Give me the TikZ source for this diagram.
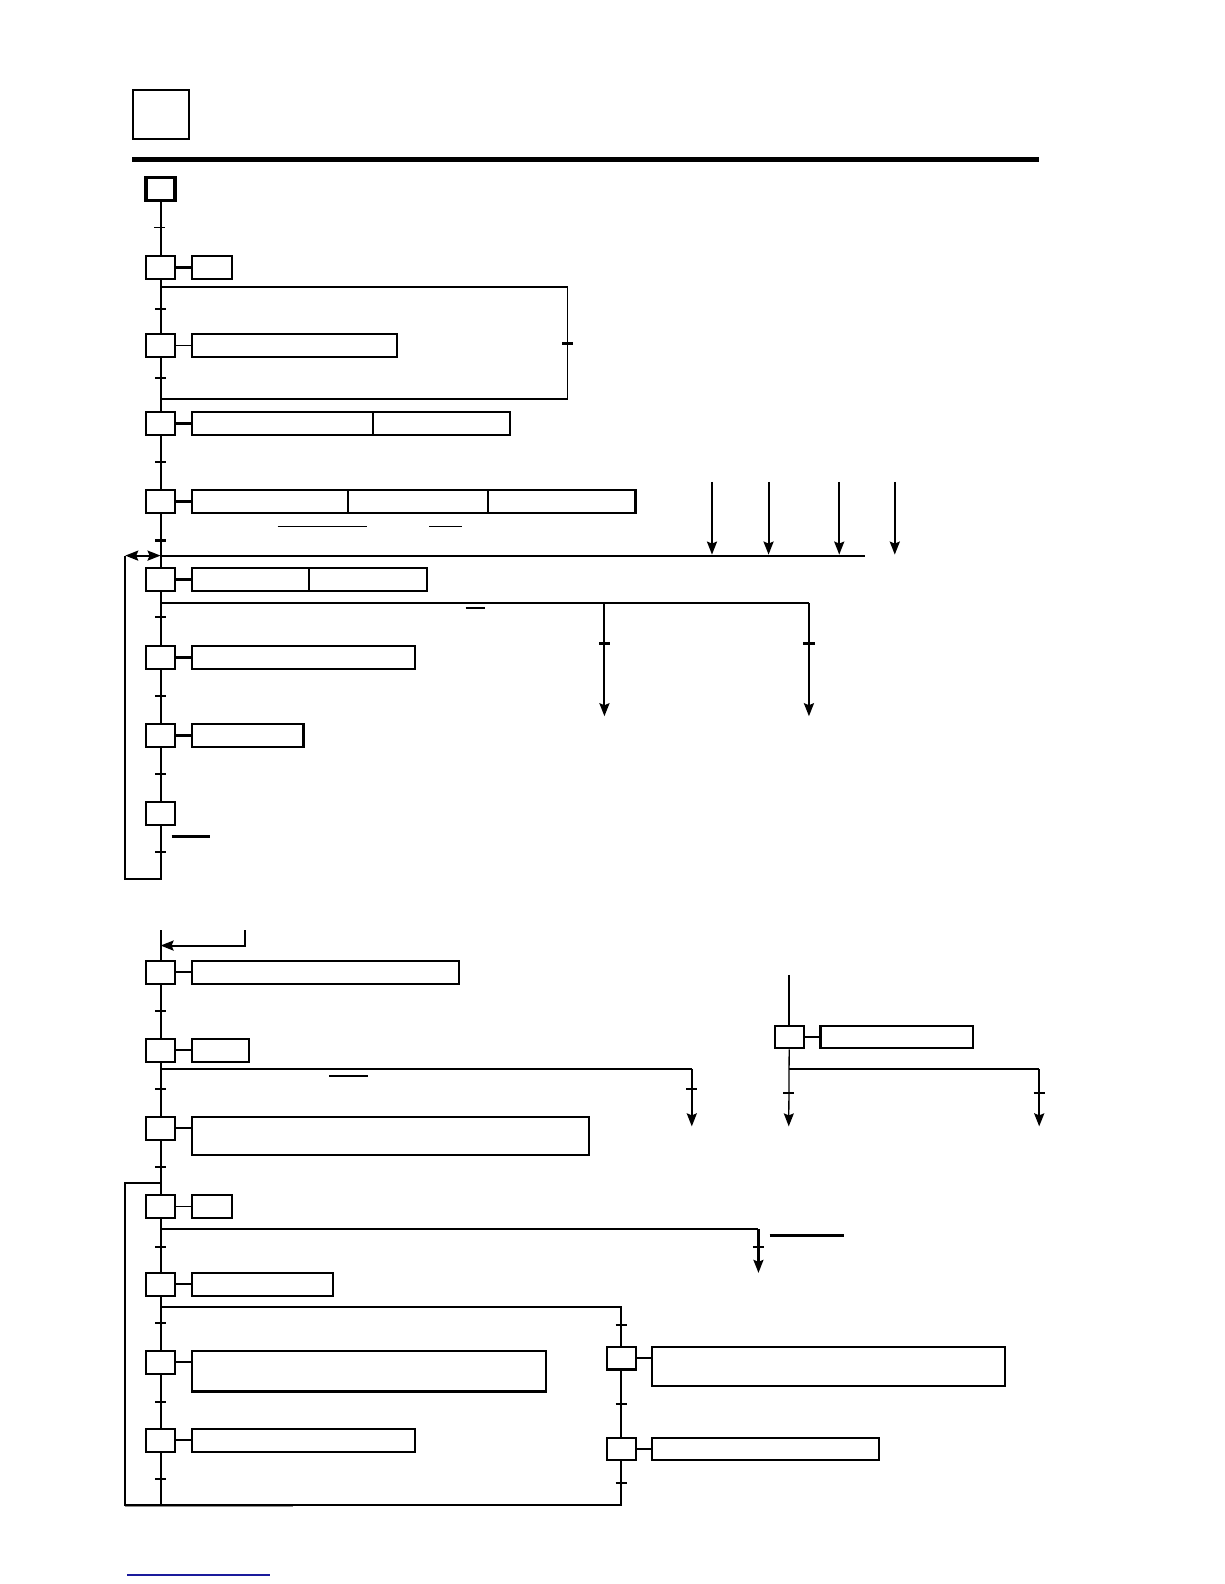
\documentclass[tikz,border=0pt]{standalone}
\usetikzlibrary{arrows.meta, positioning}
\definecolor{linkblue}{HTML}{1A1A9C}
\definecolor{shadegray}{HTML}{8C8C8C}

\begin{document}
\begin{tikzpicture}[
    x=1.0099pt, y=-1.0102pt,
    >={Stealth[length=13pt, width=10pt, inset=2pt]},
    node distance=53.4pt and 14.6pt,
    stepbox/.style={
        draw, fill=white, inner sep=0pt, line width=2.1pt,
        minimum width=29pt, minimum height=22.5pt,
    },
    initbox/.style={stepbox, line width=3.2pt},
    actbox/.style={
        draw, fill=white, inner sep=0pt, line width=2.1pt,
        minimum height=22.5pt,
    },
    wire/.style={line width=2.1pt},
    thinwire/.style={line width=1.3pt},
    arr/.style={->, line width=2.1pt},
]
\useasboundingbox (0,0) rectangle (1212,1568);

% Header
\node[draw, line width=2.1pt, inner sep=0pt, minimum width=56pt, minimum height=49pt, anchor=north west] (title) at (131,88) {};
\coordinate (rule left) at (131,158);
\coordinate (rule right) at (1029,158);
\draw[line width=4.4pt] (rule left) -- (rule right);

% Upper sequence steps
\node[initbox] (s0) at (159,187) {};
\node[stepbox, below=of s0] (s1) {};
\node[stepbox, below=of s1] (s2) {};
\node[stepbox, below=of s2] (s3) {};
\node[stepbox, below=of s3] (s4) {};
\node[stepbox, below=of s4] (s5) {};
\node[stepbox, below=of s5] (s6) {};
\node[stepbox, below=of s6] (s7) {};
\node[stepbox, below=of s7] (s8) {};

% Lower sequence steps
\node[stepbox] (s9) at (159,962.5) {};
\node[stepbox, below=of s9] (s10) {};
\node[stepbox, below=of s10] (s11) {};
\node[stepbox, below=of s11] (s12) {};
\node[stepbox, below=of s12] (s13) {};
\node[stepbox, below=of s13] (s14) {};
\node[stepbox, below=of s14] (s15) {};
\node[stepbox] (s16) at (615,1344.5) {};
\node[stepbox] (s17) at (615,1434.5) {};
\node[stepbox] (s18) at (781.5,1026.5) {};

% Actions
\node[actbox, minimum width=40pt, right=of s1] (a1) {};
\node[actbox, minimum width=205.6pt, right=of s2] (a2) {};
\node[actbox, minimum width=181.4pt, right=of s3] (a3) {};
\node[actbox, minimum width=136.6pt, right=-2.1pt of a3] (a3b) {};
\node[actbox, minimum width=156.2pt, right=of s4] (a4) {};
\node[actbox, minimum width=140pt, right=-2.1pt of a4] (a4b) {};
\node[actbox, minimum width=147.5pt, right=-2.1pt of a4b] (a4c) {};
\node[actbox, minimum width=116.8pt, right=of s5] (a5) {};
\node[actbox, minimum width=118.8pt, right=-2.1pt of a5] (a5b) {};
\node[actbox, minimum width=222.8pt, right=of s6] (a6) {};
\node[actbox, minimum width=111.7pt, right=of s7] (a7) {};
\node[actbox, minimum width=267.3pt, right=of s9] (a9) {};
\node[actbox, minimum width=57.2pt, right=of s10] (a10) {};
\node[actbox, minimum width=397.6pt, minimum height=38pt, right=of s11.north east, anchor=north west] (a11) {};
\node[actbox, minimum width=40pt, right=of s12] (a12) {};
\node[actbox, minimum width=141pt, right=of s13] (a13) {};
\node[actbox, minimum width=354.1pt, minimum height=40.4pt, right=of s14.north east, anchor=north west] (a14) {};
\node[actbox, minimum width=222.8pt, right=of s15] (a15) {};
\node[actbox, minimum width=353.1pt, minimum height=39pt, right=of s16.north east, anchor=north west] (a16) {};
\node[actbox, minimum width=226.8pt, right=of s17] (a17) {};
\node[actbox, minimum width=152.6pt, right=of s18] (a18) {};

% Step to action links
\foreach \st/\ac in {s1/a1, s3/a3, s4/a4, s5/a5, s6/a6, s7/a7, s9/a9, s10/a10, s13/a13, s15/a15, s17/a17}
    \draw[wire] (\st) -- (\ac);
\foreach \st/\ac in {s2/a2, s12/a12, s18/a18}
    \draw[thinwire] (\st) -- (\ac);
\foreach \st/\ac in {s11/a11, s14/a14, s16/a16}
    \draw[wire] (\st.east) -- (\st.east -| \ac.west);

% Upper main line
\coordinate (loop1 end) at (159,870);
\coordinate (loop1 corner) at (124,870);
\coordinate (loop1 top) at (124,550);
\coordinate (bus) at (159,550);
\coordinate (bus end) at (856,550);
\draw[wire] (s0) -- (s1);
\foreach \a/\b in {s1/s2, s2/s3, s3/s4, s4/s5, s5/s6, s6/s7, s7/s8}
    \draw[wire] (\a) -- (\b);
\draw[wire] (s8) -- (loop1 end) -- (loop1 corner) -- (loop1 top);
\draw[wire] (bus) -- (bus end);
\draw[<->, line width=2.1pt] (loop1 top) -- (bus);

% Jump over s2
\coordinate (jump top) at (159,284);
\coordinate (jump corner) at (562,284);
\coordinate (jump low) at (562,395);
\coordinate (jump bottom) at (159,395);
\draw[wire] (jump top) -- (jump corner);
\draw[thinwire] (jump corner) -- (jump low) -- (jump bottom);

% Arrows into the bus
\foreach \x in {705, 761, 831, 886} {
    \coordinate (in\x) at (\x,477);
    \coordinate (to\x) at (\x,549);
    \draw[arr] (in\x) -- (to\x);
}

% Branches below s5
\coordinate (br5) at (159,597);
\coordinate (br5 mid) at (598.5,597);
\coordinate (br5 right) at (801,597);
\coordinate (out5a) at (598.5,709);
\coordinate (out5b) at (801,709);
\draw[wire] (br5) -- (br5 right);
\draw[arr] (br5 right) -- (out5b);
\draw[arr] (br5 mid) -- (out5a);

% Lower main line
\coordinate (entry) at (159,921);
\coordinate (feed top) at (243,921);
\coordinate (feed corner) at (243,936);
\coordinate (feed end) at (159,936);
\coordinate (base) at (159,1490);
\coordinate (base left) at (124,1490);
\coordinate (base right) at (616,1490);
\coordinate (loop2 top) at (124,1171);
\coordinate (loop2 end) at (159,1171);
\draw[wire] (entry) -- (s9);
\draw[arr] (feed top) -- (feed corner) -- (feed end);
\foreach \a/\b in {s9/s10, s10/s11, s11/s12, s12/s13, s13/s14, s14/s15}
    \draw[wire] (\a) -- (\b);
\draw[wire] (s15) -- (base);
\draw[wire] (base right) -- (base left) -- (loop2 top) -- (loop2 end);

% Branch below s10
\coordinate (br10) at (159,1058);
\coordinate (br10 right) at (685,1058);
\coordinate (out10) at (685,1115);
\draw[wire] (br10) -- (br10 right);
\draw[arr] (br10 right) -- (out10);

% Branch below s12
\coordinate (br12) at (159,1217);
\coordinate (br12 right) at (751,1217);
\coordinate (out12) at (751,1260);
\draw[wire] (br12) -- (br12 right);
\draw[arr] (br12 right) -- (out12);

% Branch below s13
\coordinate (br13) at (159,1294);
\coordinate (br13 right) at (615,1294);
\draw[wire] (br13) -- (br13 right) -- (s16);
\draw[wire] (s16) -- (s17);
\draw[wire] (s17) -- (s17 |- base right);

% Separate step on the right
\coordinate (in18) at (781,965);
\coordinate (br18) at (781,1058);
\coordinate (br18 right) at (1029,1058);
\coordinate (out18a) at (781,1115);
\coordinate (out18b) at (1029,1115);
\draw[wire] (in18) -- (in18 |- s18.north);
\draw[->, thinwire] (s18) -- (out18a);
\draw[wire] (br18) -- (br18 right);
\draw[arr] (br18 right) -- (out18b);

% Transition ticks
\foreach \x/\y in {159/306, 159/374, 159/457, 159/535, 159/611, 159/689, 159/766, 159/843,
        562/340, 598.5/637, 801/637,
        159/1001, 159/1078, 159/1155, 159/1234, 159/1310, 159/1388,
        685/1078, 751/1234, 781/1082, 1029/1082,
        615/1312, 615/1390, 615/1468}
    \draw[wire] (\x-5.5,\y) -- (\x+5.5,\y);
\foreach \x/\y in {158/225, 159/1464}
    \draw[thinwire] (\x-5.5,\y) -- (\x+5.5,\y);

% Bars
\foreach \xa/\xb/\y in {275/363/521, 425/457/521, 326/364/1065}
    \draw[thinwire] (\xa,\y) -- (\xb,\y);
\foreach \xa/\xb/\y in {461/480/602, 170/208/828, 762/836/1223}
    \draw[wire] (\xa,\y) -- (\xb,\y);

% Page edges
\draw[shadegray, line width=1pt] (124,1491.5) -- (290,1491.5);
\draw[linkblue, line width=1.2pt] (126,1559) -- (267,1559);

\end{tikzpicture}
\end{document}
